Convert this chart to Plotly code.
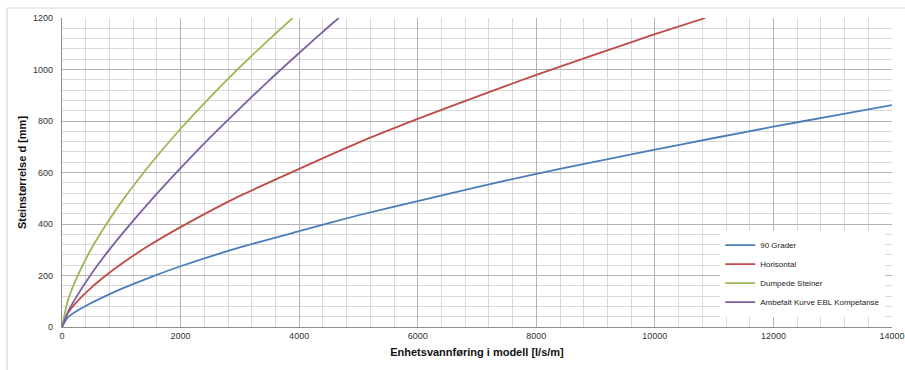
import plotly.graph_objects as go

# Data
q_blue = [0, 100, 250, 500, 750, 1000, 1500, 2000, 3000, 4000, 5000, 6000, 7000, 8000, 9000, 10000, 11000, 12000, 13000, 14000]
d_blue = [0, 38, 62, 94, 122, 148, 194, 236, 309, 372, 434, 489, 543, 595, 642, 689, 734, 778, 820, 862]

q_red = [0, 100, 250, 500, 750, 1000, 1500, 2000, 3000, 4000, 5000, 6000, 7000, 8000, 9000, 10000, 10850]
d_red = [0, 55, 98, 154, 202, 245, 321, 388, 509, 614, 716, 808, 895, 979, 1059, 1137, 1200]

q_green = [0, 100, 250, 500, 750, 1000, 1500, 2000, 2500, 3000, 3500, 3890]
d_green = [0, 104, 192, 306, 400, 485, 635, 770, 893, 1009, 1118, 1200]

q_purple = [0, 100, 250, 500, 750, 1000, 1500, 2000, 2500, 3000, 3500, 4000, 4500, 4670]
d_purple = [0, 59, 120, 208, 286, 358, 492, 617, 736, 849, 959, 1064, 1167, 1200]

names = ["90 Grader", "Horisontal", "Dumpede Steiner", "Ambefalt Kurve EBL Kompetanse"]
colors = ["#4A7EBB", "#BE4B48", "#98B954", "#7D60A0"]

x_ticks = [0, 2000, 4000, 6000, 8000, 10000, 12000, 14000]
y_ticks = [0, 200, 400, 600, 800, 1000, 1200]

FONT = "Liberation Sans Narrow, Liberation Sans, Arial, sans-serif"

fig = go.Figure()
for q, d, n, c in zip([q_blue, q_red, q_green, q_purple],
                      [d_blue, d_red, d_green, d_purple], names, colors):
    fig.add_trace(go.Scatter(x=q, y=d, mode="lines", name=n,
                             line=dict(color=c, width=1.8, shape="spline", smoothing=0.6)))

fig.update_layout(
    width=905, height=370,
    margin=dict(l=62, r=13, t=18, b=43, autoexpand=False),
    paper_bgcolor="white", plot_bgcolor="white",
    font=dict(family=FONT, size=9, color="#333333"),
    showlegend=True,
    legend=dict(x=0.793, y=0.312, xanchor="left", yanchor="top",
                bgcolor="white", borderwidth=0,
                font=dict(family=FONT, size=8, color="#222222"),
                tracegroupgap=0, itemwidth=30),
    shapes=[dict(type="rect", xref="paper", yref="paper",
                 x0=(7 - 62) / 830, x1=(915 - 62) / 830,
                 y0=(327 - 380) / 309, y1=(327 - 8) / 309,
                 line=dict(color="#d9d9d9", width=1.2), layer="below")],
)

fig.update_xaxes(
    range=[0, 14000], tickvals=x_ticks, ticktext=[str(v) for v in x_ticks],
    showgrid=True, gridcolor="#b3b3b3", gridwidth=1,
    minor=dict(dtick=400, showgrid=True, gridcolor="#d9d9d9", gridwidth=1),
    showline=True, linecolor="#8c8c8c", linewidth=1.3,
    zeroline=False, ticks="", ticklen=0,
    tickfont=dict(size=9, color="#333333"),
    title=dict(text="<b>Enhetsvannføring i modell [l/s/m]</b>",
               font=dict(size=11, color="#111111"), standoff=8),
)
fig.update_yaxes(
    range=[0, 1200], tickvals=y_ticks, ticktext=[str(v) for v in y_ticks],
    showgrid=True, gridcolor="#b3b3b3", gridwidth=1,
    minor=dict(dtick=40, showgrid=True, gridcolor="#d9d9d9", gridwidth=1),
    showline=True, linecolor="#8c8c8c", linewidth=1.3,
    zeroline=False, ticks="", ticklen=0,
    tickfont=dict(size=9, color="#333333"),
    ticklabelstandoff=6,
    title=dict(text="<b>Steinstørrelse d [mm]</b>",
               font=dict(size=11, color="#111111"), standoff=4),
)

fig.write_html("out.html")
